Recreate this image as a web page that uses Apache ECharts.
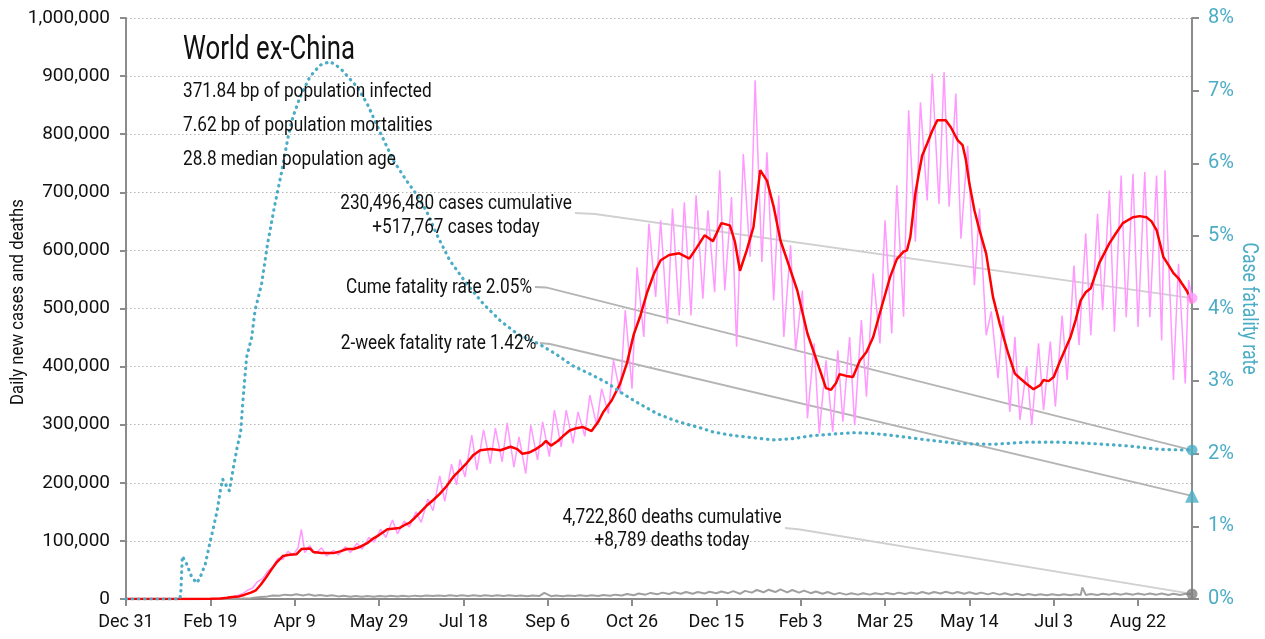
<!DOCTYPE html>
<html><head><meta charset="utf-8">
<script src="https://cdn.jsdelivr.net/npm/echarts@6/dist/echarts.min.js"></script>
<style>html,body{margin:0;padding:0;background:#fff}#c{width:1265px;height:639px}</style>
</head><body><div id="c"></div>
<script>
// x = days since Dec 31, 2019
const xTickDays = [0,50,100,150,200,250,300,350,400,450,500,550,600];
const xTickLabels = ['Dec 31','Feb 19','Apr 9','May 29','Jul 18','Sep 6','Oct 26','Dec 15','Feb 3','Mar 25','May 14','Jul 3','Aug 22'];
const lastDay = 632;

// daily new cases (thousands)
const casesDailyK = [[0,0],[30,0],[45,0.2],[52,0.6],[56,1.2],[60,2.5],[63,3.5],[66,6],[69,9],[72,15],[75,19],[78,30],[81,35],[84,48],[87,55],[90,70],[93,68],[96,82],[99,76],[102,88],[104,120],[106,80],[109,92],[112,78],[116,88],[119,74],[123,84],[126,76],[130,90],[133,80],[137,96],[140,86],[144,106],[147,98],[151,120],[154,106],[158,136],[161,112],[165,134],[168,124],[172,150],[175,132],[179,172],[182,152],[186,212],[189,168],[193,232],[196,196],[198,240],[201,210],[205,282],[208,222],[212,291],[216,233],[219,294],[223,236],[226,303],[230,227],[233,279],[237,216],[240,299],[244,239],[247,305],[251,245],[254,325],[258,262],[261,325],[265,268],[268,322],[272,280],[275,351],[279,300],[282,362],[286,319],[289,411],[293,354],[296,497],[300,362],[303,571],[307,451],[310,646],[314,520],[317,652],[321,474],[324,672],[328,488],[331,683],[335,488],[338,695],[342,517],[345,669],[349,528],[352,738],[355,531],[359,692],[362,434],[366,766],[370,589],[373,893],[377,580],[380,769],[384,514],[387,695],[390,451],[394,609],[397,428],[401,531],[404,311],[408,440],[411,285],[415,411],[419,288],[422,428],[425,305],[429,451],[432,299],[436,480],[439,348],[443,560],[447,440],[450,652],[454,457],[457,712],[461,486],[464,841],[468,615],[471,855],[475,686],[478,904],[482,680],[485,907],[488,675],[492,870],[495,620],[499,780],[503,540],[506,672],[510,454],[513,495],[517,380],[520,488],[524,322],[527,451],[530,308],[534,400],[537,299],[541,440],[544,325],[548,443],[551,331],[555,488],[558,377],[562,574],[565,437],[569,629],[572,454],[576,663],[579,497],[583,703],[586,460],[590,729],[593,485],[597,732],[600,468],[604,735],[607,485],[611,729],[614,445],[616,738],[621,377],[624,577],[628,371],[630,549],[632,517.767]];

// 7-day average of new cases (thousands)
const casesAvgK = [[0,0],[40,0.2],[50,0.5],[56,1],[60,2],[63,3.5],[67,4.5],[70,7],[74,11],[77,15],[80,25],[83,37],[86,50],[89,62],[93,74],[97,76],[101,77],[104,86],[109,87],[111,81],[116,79],[123,79],[127,82],[131,86],[135,86],[139,90],[143,96],[146,103],[150,110],[155,120],[158,121],[162,122],[165,127],[168,131],[171,139],[174,148],[178,160],[182,170],[186,181],[190,194],[194,210],[198,222],[202,234],[206,248],[210,256],[216,258],[222,256],[228,262],[232,258],[235,250],[239,252],[243,258],[247,266],[249,272],[252,264],[256,272],[259,280],[263,290],[267,294],[271,296],[276,289],[280,305],[283,322],[288,342],[293,371],[297,406],[301,455],[305,488],[309,528],[313,560],[317,583],[322,592],[328,595],[334,586],[338,603],[343,626],[348,616],[353,647],[358,643],[361,615],[364,565],[368,600],[372,640],[376,738],[380,720],[384,675],[388,617],[392,583],[398,531],[404,457],[410,406],[415,363],[418,360],[421,372],[423,387],[427,384],[431,382],[435,410],[439,425],[443,451],[448,503],[453,554],[457,585],[461,598],[463,600],[465,623],[468,698],[470,732],[472,763],[475,784],[478,806],[481,824],[486,824],[489,812],[493,790],[496,781],[498,755],[500,715],[503,669],[506,635],[510,594],[514,520],[518,474],[523,423],[527,388],[530,380],[534,370],[538,361],[542,368],[544,377],[547,375],[550,382],[554,411],[560,451],[563,480],[566,514],[569,528],[572,535],[577,578],[583,612],[587,630],[591,647],[597,657],[601,659],[605,657],[608,650],[611,635],[613,612],[615,589],[618,575],[621,561],[624,552],[626,543],[629,530],[632,509]];

// daily deaths (thousands)
const deathsDailyK = [[0,0],[50,0.05],[60,0.2],[67,0.6],[70,1],[74,1.5],[77,2.5],[80,3.5],[84,4.5],[87,6],[91,5.5],[94,7.5],[98,6.5],[101,8],[105,6],[108,8],[112,5.5],[115,7],[119,5],[122,6.5],[126,4.5],[129,5.5],[133,4],[136,5],[140,4],[143,5],[147,4],[150,5],[154,4.2],[157,5.5],[161,4.5],[164,5.5],[168,4.5],[171,5.8],[175,4.8],[178,6],[182,5],[185,6.2],[189,5],[192,6.3],[196,5],[199,6.5],[203,5.2],[206,6.5],[210,5],[213,6.5],[217,5],[220,6.5],[224,5],[227,6.3],[231,5],[234,6.2],[238,4.8],[241,6.2],[245,5],[248,10.5],[252,4.8],[255,6],[259,4.8],[262,6],[266,5],[269,6.3],[273,5],[276,6.5],[280,5.2],[283,7],[287,5.5],[290,7.5],[294,6],[297,8.5],[301,6.5],[304,9.5],[308,7.5],[311,10.5],[315,8],[318,11],[322,8.5],[325,11.5],[329,9],[332,12],[336,9],[339,12],[343,9.5],[346,12.5],[350,10],[353,13],[357,10],[360,13.5],[364,9],[367,14],[371,11],[374,15.5],[378,11.5],[381,16],[385,12],[388,16.5],[392,11.5],[395,15.5],[399,11],[402,14.5],[406,10],[409,13],[413,9],[416,12],[420,8],[423,10.5],[427,7.5],[430,10],[434,7.5],[437,10],[441,7.5],[444,10],[448,8],[451,10.5],[455,8],[458,11],[462,8.5],[465,11],[469,9],[472,12],[476,9],[479,12],[483,9.5],[486,12.5],[490,9.5],[493,12],[497,9],[500,11.5],[504,8.5],[507,11],[511,8],[514,10.5],[518,7.5],[521,10],[525,7],[528,9],[532,6.5],[535,8.5],[539,6.5],[542,8],[546,6.5],[549,8],[553,6.5],[556,8],[560,6.5],[563,8],[566,7],[567,20],[569,7],[572,8.5],[576,7],[579,9],[583,7.5],[586,9.5],[590,7.5],[593,9.5],[597,7.5],[600,9.5],[604,7.5],[607,9.5],[611,7.5],[614,9.5],[618,7],[621,9],[625,7],[628,9],[632,8.789]];

// cumulative case fatality rate (%)
const cfrCumePct = [[0,0],[32,0],[32.5,0.1],[33.4,0.59],[36,0.48],[39,0.3],[42,0.22],[44,0.3],[47,0.48],[50,0.8],[52,1.0],[54,1.21],[56,1.5],[57.3,1.65],[59,1.58],[61.3,1.49],[63.6,1.8],[66,2.1],[68,2.3],[69.5,2.78],[71.5,3.33],[74.5,3.6],[76.5,3.97],[80.4,4.34],[84,4.9],[88,5.4],[92,5.85],[96,6.35],[99,6.64],[103,6.9],[109,7.19],[115,7.35],[121,7.4],[127,7.31],[137,7.05],[143,6.82],[151,6.41],[158.5,6.04],[166,5.77],[172,5.58],[178,5.35],[184,5.03],[192,4.66],[202,4.34],[212,4.06],[222,3.83],[232,3.65],[245,3.51],[255,3.37],[265,3.21],[275,3.1],[285,2.98],[295,2.82],[305,2.68],[315,2.55],[325,2.46],[332,2.41],[340,2.36],[348,2.3],[360,2.25],[372,2.22],[384,2.19],[396,2.21],[407,2.25],[419,2.27],[431,2.29],[443,2.28],[455,2.25],[465,2.22],[475,2.19],[494,2.14],[514,2.13],[534,2.16],[554,2.16],[573,2.14],[593,2.11],[613,2.06],[632,2.05]];

const endCases = 517767, endDeaths = 8789, endCfrCume = 2.05, endCfr2wk = 1.42;

const titleText = 'World ex-China';
const infoLines = ['371.84 bp of population infected','7.62 bp of population mortalities','28.8 median population age'];
const casesLabel = ['230,496,480 cases cumulative','+517,767 cases today'];
const cumeLabel = 'Cume fatality rate 2.05%';
const twoWeekLabel = '2-week fatality rate 1.42%';
const deathsLabel = ['4,722,860 deaths cumulative','+8,789 deaths today'];
const leftAxisName = 'Daily new cases and deaths';
const rightAxisName = 'Case fatality rate';

const FONT = 'Roboto,"Liberation Sans",sans-serif';
const BLUE = '#4bacc6';
const toAbs = arr => arr.map(p => [p[0], Math.round(p[1]*1000)]);
const labelMap = {}; xTickDays.forEach((d,i)=>labelMap[d]=xTickLabels[i]);

const chart = echarts.init(document.getElementById('c'), null, {renderer:'canvas'});
chart.setOption({
  animation:false,
  backgroundColor:'#fff',
  grid:{left:126, right:73, top:18, bottom:40, containLabel:false, outerBoundsMode:'none'},
  xAxis:{type:'value', min:0, max:lastDay,
    axisLine:{show:true, lineStyle:{color:'#8c8c8c', width:2}},
    axisTick:{show:true, length:7, lineStyle:{color:'#8c8c8c', width:2}, customValues:xTickDays},
    axisLabel:{customValues:xTickDays, formatter:v=>labelMap[v]||'', color:'#111', fontSize:18, fontFamily:FONT, margin:14},
    splitLine:{show:false}},
  yAxis:[
    {type:'value', min:0, max:1000000, interval:100000, position:'left',
     axisLine:{show:true, lineStyle:{color:'#8c8c8c', width:2}},
     axisTick:{show:true, length:6, lineStyle:{color:'#8c8c8c', width:2}},
     axisLabel:{color:'#111', fontSize:19, fontFamily:FONT, margin:16, formatter:v=>v.toLocaleString('en-US')},
     splitLine:{show:true, lineStyle:{color:'#b5b5b5', width:1, type:[1.5,2.5]}}},
    {type:'value', min:0, max:8, interval:1, position:'right',
     axisLine:{show:true, lineStyle:{color:'#8c8c8c', width:2}},
     axisTick:{show:true, length:7, lineStyle:{color:'#8c8c8c', width:2}},
     axisLabel:{color:BLUE, fontSize:20, fontFamily:FONT, margin:16, formatter:v=>v+'%'},
     splitLine:{show:false}}
  ],
  series:[
    {name:'deaths', type:'line', data:toAbs(deathsDailyK), symbol:'none', z:2,
     lineStyle:{color:'#a0a0a0', width:2}},
    {name:'cases daily', type:'line', data:toAbs(casesDailyK), symbol:'none', z:3,
     lineStyle:{color:'#ff99ff', width:1.5}},
    {name:'cases avg', type:'line', data:toAbs(casesAvgK), symbol:'none', z:4,
     lineStyle:{color:'#ff0000', width:2.5}},
    {name:'cfr', type:'line', yAxisIndex:1, data:cfrCumePct, symbol:'none', z:5,
     lineStyle:{color:BLUE, width:3.2, type:[0.5,5.7], cap:'round'}},
    {name:'endCases', type:'scatter', data:[[lastDay,endCases]], symbol:'circle', symbolSize:11, z:6,
     itemStyle:{color:'#ff99ff'}},
    {name:'endDeaths', type:'scatter', data:[[lastDay,endDeaths]], symbol:'circle', symbolSize:11, z:6,
     itemStyle:{color:'#808080'}},
    {name:'endCfr', type:'scatter', yAxisIndex:1, data:[[lastDay,endCfrCume]], symbol:'circle', symbolSize:11, z:6,
     itemStyle:{color:BLUE}},
    {name:'endCfr2wk', type:'scatter', yAxisIndex:1, data:[[lastDay,endCfr2wk]], symbol:'triangle', symbolSize:14, z:6,
     itemStyle:{color:BLUE}}
  ]
});

const pCases = chart.convertToPixel({seriesIndex:4}, [lastDay,endCases]);
const pDeaths = chart.convertToPixel({seriesIndex:5}, [lastDay,endDeaths]);
const pCfr = chart.convertToPixel({seriesIndex:6}, [lastDay,endCfrCume]);
const pCfr2 = chart.convertToPixel({seriesIndex:7}, [lastDay,endCfr2wk]);

function txt(t, x, y, size, align, sx, color, rot){
  return {type:'text', x:x, y:y, z:10, silent:true, scaleX:sx||0.82, rotation:rot||0,
    style:{text:t, font:size+'px '+FONT, fill:color||'#111', align:align||'left', verticalAlign:'middle'}};
}
function leader(pts, color){
  return {type:'polyline', z:1, silent:true, shape:{points:pts}, style:{stroke:color, lineWidth:1.8, fill:null}};
}
const g = [
  txt(titleText, 183, 51, 33, 'left', 0.78),
  txt(infoLines[0], 183, 91.5, 21),
  txt(infoLines[1], 183, 126, 21),
  txt(infoLines[2], 183, 159.5, 21),
  txt(casesLabel[0], 456, 204, 21, 'center'),
  txt(casesLabel[1], 456, 227.5, 21, 'center'),
  txt(cumeLabel, 439, 287.5, 21, 'center'),
  txt(twoWeekLabel, 438.5, 343.5, 21, 'center'),
  txt(deathsLabel[0], 672, 517.5, 21, 'center'),
  txt(deathsLabel[1], 672, 540.5, 21, 'center'),
  txt(leftAxisName, 18, 302, 19, 'center', 0.88, '#111', Math.PI/2),
  txt(rightAxisName, 1248, 308.5, 22, 'center', 0.8, BLUE, -Math.PI/2),
  leader([[575,213],[595,214],pCases], '#d0d0d0'),
  leader([[535,287],[546,287.5],pCfr], '#b4b4b4'),
  leader([[540,343],[550,344],pCfr2], '#b4b4b4'),
  leader([[785,528],[800,529.5],pDeaths], '#d0d0d0')
];
chart.setOption({graphic:{elements:g}});
</script></body></html>
